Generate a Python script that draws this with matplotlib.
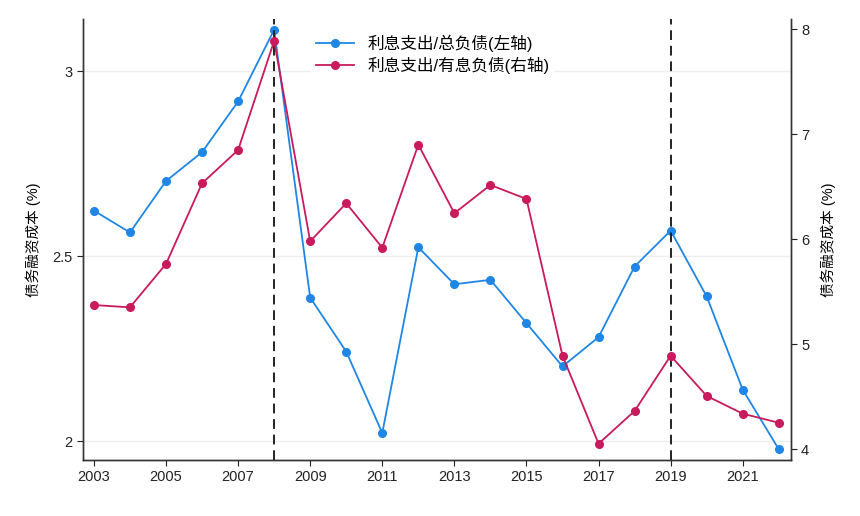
import matplotlib
matplotlib.use("Agg")
import matplotlib.pyplot as plt

plt.rcParams['font.family'] = ['Liberation Sans', 'Noto Sans CJK SC', 'DejaVu Sans']

years = list(range(2003, 2023))
# 利息支出/总负债 (left axis)
total_debt = [2.623, 2.564, 2.703, 2.781, 2.918, 3.112, 2.388, 2.242, 2.022, 2.524,
              2.424, 2.436, 2.319, 2.202, 2.281, 2.472, 2.569, 2.391, 2.139, 1.978]
# 利息支出/有息负债 (right axis)
interest_debt = [5.374, 5.352, 5.765, 6.533, 6.850, 7.889, 5.981, 6.343, 5.920, 6.901,
                 6.248, 6.517, 6.384, 4.891, 4.053, 4.365, 4.891, 4.508, 4.339, 4.253]
xticks = [2003, 2005, 2007, 2009, 2011, 2013, 2015, 2017, 2019, 2021]
left_ticks = [2, 2.5, 3]
right_ticks = [4, 5, 6, 7, 8]
event_years = [2008, 2019]

blue = '#1f86e6'
red = '#c81a5c'

fig = plt.figure(figsize=(8.6, 5.16), dpi=100)
ax = fig.add_axes([0.0962, 0.1085, 0.8232, 0.8547])
ax2 = ax.twinx()

ax.plot(years, total_debt, color=blue, marker='o', markersize=5.5, lw=1.3,
        label='利息支出/总负债(左轴)')
ax2.plot(years, interest_debt, color=red, marker='o', markersize=5.5, lw=1.3,
         label='利息支出/有息负债(右轴)')

for yr in event_years:
    ax.axvline(yr, color='#222222', ls=(0, (5, 3)), lw=1.4)

ax.set_xlim(2002.69, 2022.33)
ax.set_ylim(1.949, 3.141)
ax2.set_ylim(3.898, 8.098)
ax.set_xticks(xticks)
ax.set_yticks(left_ticks)
ax.set_yticklabels(['2', '2.5', '3'])
ax2.set_yticks(right_ticks)

for y in left_ticks:
    ax.axhline(y, color='#eeeeee', lw=1.0, zorder=0)

for a in (ax, ax2):
    a.spines['top'].set_visible(False)
    for s in ('left', 'bottom', 'right'):
        a.spines[s].set_color('#333333')
        a.spines[s].set_linewidth(1.0)
    a.tick_params(labelsize=10.5, colors='#222222', length=4)

ax.set_ylabel('债务融资成本 (%)', fontsize=10.5, labelpad=8)
ax2.set_ylabel('债务融资成本 (%)', fontsize=10.5, labelpad=8, rotation=90)

h1, l1 = ax.get_legend_handles_labels()
h2, l2 = ax2.get_legend_handles_labels()
leg = ax2.legend(h1 + h2, l1 + l2, loc='upper left', bbox_to_anchor=(0.31, 0.995),
                 frameon=True, facecolor='white', edgecolor='none', framealpha=1,
                 fontsize=12, handlelength=2.3, borderpad=0.3, labelspacing=0.3)

fig.savefig('out.png', dpi=100)
